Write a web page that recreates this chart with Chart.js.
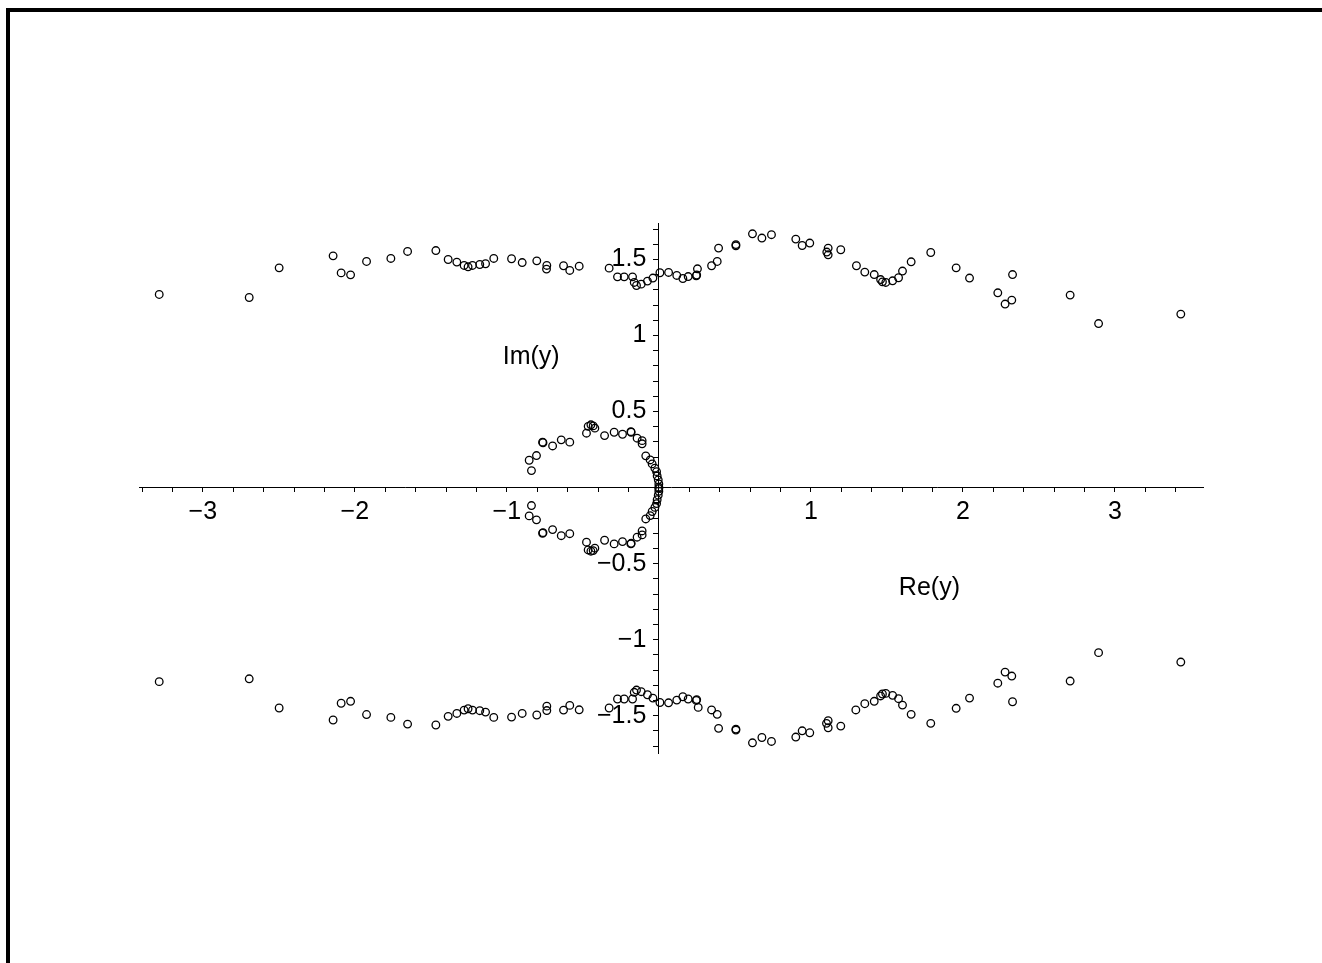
<!DOCTYPE html>
<html>
<head>
<meta charset="utf-8">
<script src="https://cdn.jsdelivr.net/npm/chart.js@4.4.1/dist/chart.umd.min.js"></script>
<style>
  html, body { margin: 0; padding: 0; background: #fff; overflow: hidden; }
  #frame { position: absolute; left: 6px; top: 8px; width: 1340px; height: 1000px;
           border-left: 4px solid #000; border-top: 4px solid #000; }
  #plot { position: absolute; left: 0; top: 0; }
</style>
</head>
<body>
<div id="frame"></div>
<canvas id="plot" width="1322" height="963"></canvas>
<script>
var outerUpperRe = [-3.287,-2.695,-2.498,-2.143,-2.090,-2.028,-1.923,-1.763,-1.653,-1.467,-1.386,-1.329,-1.281,-1.255,-1.226,-1.178,-1.140,-1.086,
  -0.969,-0.899,-0.803,-0.737,-0.739,-0.627,-0.586,-0.524,-0.327,-0.272,-0.228,-0.173,-0.162,-0.147,-0.116,-0.075,-0.039,
  0.007,0.064,0.118,0.158,0.193,0.246,0.249,0.254,0.347,0.384,0.393,0.507,0.507,0.616,0.678,0.741,0.901,0.943,0.993,
  1.114,1.105,1.114,1.197,1.300,1.355,1.417,1.459,1.471,1.493,1.538,1.577,1.603,1.660,1.789,1.956,2.044,2.230,2.278,2.322,2.327,2.706,2.893,3.434];
var outerUpperIm = [1.270,1.250,1.445,1.524,1.412,1.399,1.487,1.507,1.553,1.559,1.500,1.483,1.461,1.452,1.461,1.467,1.472,1.507,
  1.505,1.480,1.491,1.461,1.437,1.459,1.428,1.456,1.443,1.386,1.386,1.386,1.349,1.329,1.338,1.358,1.378,
  1.413,1.415,1.395,1.375,1.388,1.393,1.398,1.439,1.459,1.487,1.575,1.590,1.598,1.669,1.641,1.663,1.634,1.592,1.608,
  1.575,1.549,1.531,1.564,1.459,1.417,1.401,1.368,1.353,1.349,1.360,1.380,1.424,1.485,1.546,1.445,1.378,1.281,1.207,1.233,1.401,1.266,1.079,1.141];

var outerLowerRe = [-3.287,-2.695,-2.498,-2.143,-2.090,-2.028,-1.923,-1.763,-1.653,-1.467,-1.386,-1.329,-1.281,-1.255,-1.226,-1.178,-1.140,-1.086,
  -0.969,-0.899,-0.803,-0.737,-0.737,-0.627,-0.586,-0.524,-0.327,-0.272,-0.228,-0.173,-0.162,-0.147,-0.116,-0.075,-0.039,
  0.007,0.064,0.118,0.158,0.193,0.246,0.249,0.259,0.347,0.384,0.393,0.507,0.507,0.616,0.678,0.741,0.901,0.943,0.993,
  1.103,1.114,1.114,1.197,1.296,1.355,1.417,1.459,1.471,1.493,1.538,1.577,1.603,1.660,1.789,1.956,2.044,2.230,2.278,2.322,2.327,2.706,2.893,3.434];
var outerLowerIm = [-1.276,-1.257,-1.449,-1.528,-1.418,-1.405,-1.492,-1.511,-1.555,-1.561,-1.504,-1.485,-1.463,-1.454,-1.463,-1.467,-1.476,-1.511,
  -1.509,-1.485,-1.495,-1.437,-1.466,-1.463,-1.432,-1.461,-1.449,-1.390,-1.390,-1.390,-1.346,-1.331,-1.342,-1.362,-1.384,
  -1.413,-1.415,-1.397,-1.375,-1.390,-1.399,-1.394,-1.445,-1.462,-1.491,-1.583,-1.594,-1.588,-1.678,-1.643,-1.669,-1.640,-1.599,-1.612,
  -1.550,-1.533,-1.579,-1.568,-1.462,-1.421,-1.405,-1.370,-1.357,-1.353,-1.366,-1.388,-1.430,-1.491,-1.550,-1.451,-1.384,-1.286,-1.213,-1.239,-1.408,-1.272,-1.085,-1.147];

var innerUpperRe = [-0.853,-0.838,-0.805,-0.765,-0.762,-0.699,-0.642,-0.586,-0.476,-0.465,-0.447,-0.432,-0.421,-0.357,-0.294,-0.239,-0.184,-0.182,
  -0.143,-0.110,-0.110,-0.086,-0.057,-0.044,-0.026,-0.015,-0.011,-0.004,0.000,0.000];
var innerUpperIm = [0.180,0.112,0.211,0.299,0.295,0.274,0.314,0.299,0.358,0.403,0.413,0.406,0.391,0.342,0.364,0.351,0.368,0.364,
  0.325,0.309,0.288,0.209,0.182,0.156,0.128,0.105,0.077,0.051,0.024,0.003];

var innerLowerRe = [-0.838,-0.853,-0.805,-0.765,-0.762,-0.699,-0.642,-0.586,-0.476,-0.465,-0.447,-0.432,-0.421,-0.357,-0.294,-0.239,-0.184,-0.182,
  -0.143,-0.110,-0.110,-0.086,-0.057,-0.044,-0.026,-0.015,-0.011,-0.004,0.000,0.000];
var innerLowerIm = [-0.118,-0.186,-0.212,-0.300,-0.296,-0.276,-0.316,-0.303,-0.359,-0.410,-0.418,-0.414,-0.398,-0.346,-0.370,-0.355,-0.370,-0.366,
  -0.326,-0.311,-0.285,-0.206,-0.184,-0.157,-0.130,-0.105,-0.079,-0.050,-0.024,-0.006];

var xRange = [-3.42, 3.58];
var yRange = [-1.745, 1.74];
var xTickStep = 0.2;
var yTickStep = 0.1;
var axisTitles = [{text: 'Re(y)', x: 1.78, y: -0.66}, {text: 'Im(y)', x: -0.84, y: 0.855}];

function pts(re, im) {
  return re.map(function(r, i) { return {x: r, y: im[i]}; });
}
function minus(v) {
  return String(v).replace('-', '\u2212');
}
function stepTicks(step) {
  return function(scale) {
    var out = [];
    var k0 = Math.ceil(scale.min / step - 1e-6), k1 = Math.floor(scale.max / step + 1e-6);
    for (var k = k0; k <= k1; k++) out.push({value: +(k * step).toFixed(4)});
    scale.ticks = out;
  };
}

var font = {family: '"Liberation Sans", Arial, sans-serif', size: 25};

var titlesPlugin = {
  id: 'titles',
  afterDraw: function(chart) {
    var ctx = chart.ctx;
    ctx.save();
    ctx.fillStyle = '#000';
    ctx.font = '25px "Liberation Sans", Arial, sans-serif';
    ctx.textAlign = 'center';
    ctx.textBaseline = 'middle';
    axisTitles.forEach(function(t) {
      ctx.fillText(t.text, chart.scales.x.getPixelForValue(t.x), chart.scales.y.getPixelForValue(t.y));
    });
    ctx.restore();
  }
};

var ds = function(data) {
  return {data: data, showLine: false, pointStyle: 'circle', pointRadius: 3.8, pointBorderWidth: 1.3,
          pointBorderColor: '#000', pointBackgroundColor: 'rgba(0,0,0,0)'};
};

var chart = new Chart(document.getElementById('plot'), {
  type: 'scatter',
  data: {datasets: [ds(pts(outerUpperRe, outerUpperIm)), ds(pts(outerLowerRe, outerLowerIm)),
                    ds(pts(innerUpperRe, innerUpperIm)), ds(pts(innerLowerRe, innerLowerIm))]},
  options: {
    responsive: false,
    animation: false,
    devicePixelRatio: 1,
    layout: {padding: {left: 139, right: 119, top: 223, bottom: 210}},
    plugins: {legend: {display: false}, tooltip: {enabled: false}},
    scales: {
      x: {
        type: 'linear', min: xRange[0], max: xRange[1], position: {y: 0},
        afterBuildTicks: stepTicks(xTickStep),
        grid: {drawOnChartArea: false, drawTicks: true, tickLength: 4, color: '#000', lineWidth: 1},
        border: {display: true, color: '#000', width: 1},
        ticks: {autoSkip: false, maxRotation: 0, color: '#000', font: font, padding: 5,
          callback: function(v) { return (Math.abs(v - Math.round(v)) < 1e-6 && Math.round(v) !== 0) ? minus(Math.round(v)) : ''; }}
      },
      y: {
        type: 'linear', min: yRange[0], max: yRange[1], position: {x: 0},
        afterBuildTicks: stepTicks(yTickStep),
        grid: {drawOnChartArea: false, drawTicks: true, tickLength: 5, color: '#000', lineWidth: 1},
        border: {display: true, color: '#000', width: 1},
        ticks: {autoSkip: false, color: '#000', font: font, padding: 8,
          // labels sit right against a centred axis, so a trailing en space keeps them clear of it
          callback: function(v) { var h = v * 2; return (Math.abs(h - Math.round(h)) < 1e-6 && Math.round(h) !== 0) ? minus(+v.toFixed(1)) + '\u2002' : ''; }}
      }
    }
  },
  plugins: [titlesPlugin]
});
</script>
</body>
</html>
